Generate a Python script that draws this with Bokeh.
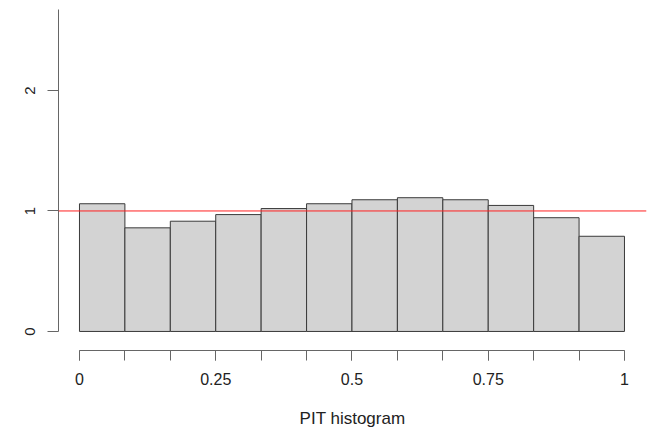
from bokeh.plotting import figure
from bokeh.models import Range1d, FixedTicker, Span
from bokeh.embed import file_html
from bokeh.resources import INLINE

# PIT histogram densities (12 equal bins on [0, 1])
n_bins = 12
density = [1.06, 0.86, 0.915, 0.97, 1.02, 1.06, 1.093, 1.11, 1.093, 1.046, 0.944, 0.79]
x_tick_values = [0, 0.25, 0.5, 0.75, 1]
x_tick_labels = ["0", "0.25", "0.5", "0.75", "1"]
y_tick_values = [0, 1, 2]
reference_level = 1.0
x_label = "PIT histogram"

edges = [k / n_bins for k in range(n_bins + 1)]
lefts = edges[:-1]
rights = edges[1:]

FONT = "Liberation Sans"

p = figure(width=650, height=430, output_backend="svg", toolbar_location=None,
           x_range=Range1d(-0.0385, 1.0404), y_range=Range1d(-0.158, 2.672),
           min_border_left=58, min_border_right=4, min_border_top=9, min_border_bottom=80)
p.outline_line_color = None
p.xgrid.visible = False
p.ygrid.visible = False
p.background_fill_color = "white"
p.border_fill_color = "white"

p.quad(left=lefts, right=rights, bottom=0, top=density,
       fill_color="#d3d3d3", line_color="#3a3a3a", line_width=1)

p.add_layout(Span(location=reference_level, dimension="width",
                  line_color="#ff2020", line_width=1))

xa = p.xaxis[0]
xa.ticker = FixedTicker(ticks=x_tick_values, minor_ticks=edges)
xa.major_label_overrides = {v: s for v, s in zip(x_tick_values, x_tick_labels)}
xa.bounds = (0, 1)
xa.axis_line_color = "#666666"
xa.major_tick_line_color = "#666666"
xa.minor_tick_line_color = "#666666"
xa.major_tick_in = 0
xa.major_tick_out = 10
xa.minor_tick_in = 0
xa.minor_tick_out = 10
xa.major_label_standoff = 12
xa.major_label_text_font = FONT
xa.major_label_text_font_size = "16px"
xa.major_label_text_color = "#222222"
xa.axis_label = x_label
xa.axis_label_text_font = FONT
xa.axis_label_text_font_style = "normal"
xa.axis_label_text_font_size = "17px"
xa.axis_label_text_color = "#222222"
xa.axis_label_standoff = 21

ya = p.yaxis[0]
ya.ticker = FixedTicker(ticks=y_tick_values, minor_ticks=[])
ya.bounds = (0, 2.672)
ya.axis_line_color = "#666666"
ya.major_tick_line_color = "#666666"
ya.major_tick_in = 0
ya.major_tick_out = 11
ya.minor_tick_line_color = None
ya.major_label_orientation = "vertical"
ya.major_label_standoff = 12
ya.major_label_text_font = FONT
ya.major_label_text_font_size = "15px"
ya.major_label_text_color = "#222222"

open("out.html", "w").write(file_html(p, INLINE))
